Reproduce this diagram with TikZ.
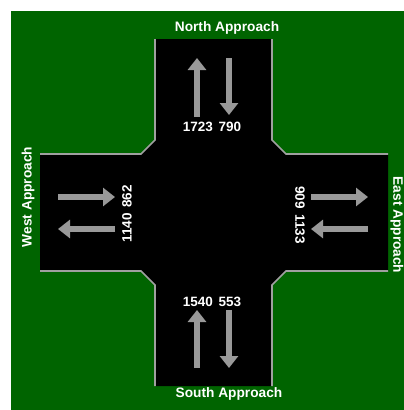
\documentclass[tikz,border=0pt]{standalone}
\usepackage{fontspec}
\setmainfont{Liberation Sans}
\usetikzlibrary{arrows.meta}
\definecolor{grass}{HTML}{006400}
\definecolor{curb}{HTML}{A0A0A0}
\definecolor{flow}{HTML}{999999}
\tikzset{
  approach/.style={text=white, font=\bfseries\fontsize{13.7}{15}\selectfont, inner sep=0pt},
  volume/.style={text=white, font=\bfseries\fontsize{13.5}{15}\selectfont, inner sep=0pt},
  curbline/.style={draw=curb, line width=1.6pt},
  flowarrow/.style={draw=flow, line width=6pt, -{Triangle[width=18pt,length=12pt]}}
}
\newcommand{\vsp}{\hspace{0.42em}}
\begin{document}
\begin{tikzpicture}[x=1pt, y=-1pt]
\useasboundingbox (0,0) rectangle (404,410);
% grass background
\fill[grass] (11,11) rectangle (404,410);
% road surface
\fill[black] (155,39) -- (272,39) -- (272,140) -- (286,154) -- (388,154) -- (388,271)
  -- (286,271) -- (272,285) -- (272,386) -- (155,386) -- (155,285) -- (141,271)
  -- (40,271) -- (40,154) -- (141,154) -- (155,140) -- cycle;
% curbs
\draw[curbline] (155,39) -- (155,140) -- (141,154) -- (40,154);
\draw[curbline] (272,39) -- (272,140) -- (286,154) -- (388,154);
\draw[curbline] (40,271) -- (141,271) -- (155,285) -- (155,386);
\draw[curbline] (388,271) -- (286,271) -- (272,285) -- (272,386);
% arrow end points
\coordinate (nUpA) at (197,117); \coordinate (nUpB) at (197,58);
\coordinate (nDnA) at (229,58);  \coordinate (nDnB) at (229,115);
\coordinate (sUpA) at (197,368); \coordinate (sUpB) at (197,310);
\coordinate (sDnA) at (229,310); \coordinate (sDnB) at (229,368);
\coordinate (wRtA) at (58,197);  \coordinate (wRtB) at (115,197);
\coordinate (wLfA) at (115,229); \coordinate (wLfB) at (58,229);
\coordinate (eRtA) at (311,197); \coordinate (eRtB) at (368,197);
\coordinate (eLfA) at (368,229); \coordinate (eLfB) at (311,229);
% flow arrows
\draw[flowarrow] (nUpA) -- (nUpB);
\draw[flowarrow] (nDnA) -- (nDnB);
\draw[flowarrow] (sUpA) -- (sUpB);
\draw[flowarrow] (sDnA) -- (sDnB);
\draw[flowarrow] (wRtA) -- (wRtB);
\draw[flowarrow] (wLfA) -- (wLfB);
\draw[flowarrow] (eRtA) -- (eRtB);
\draw[flowarrow] (eLfA) -- (eLfB);
% volumes
\node[volume] (nVol) at (212,127) {1723\vsp790};
\node[volume] (sVol) at (212,302) {1540\vsp553};
\node[volume, rotate=90] (wVol) at (127,214) {1140\vsp862};
\node[volume, rotate=-90] (eVol) at (300,215) {909\vsp1133};
% approach names
\node[approach] (north) at (227,28) {North Approach};
\node[approach] (south) at (229,394) {South Approach};
\node[approach, rotate=90] (west) at (28,197) {West Approach};
\node[approach, rotate=-90] (east) at (397,225) {East Approach};
\end{tikzpicture}
\end{document}
